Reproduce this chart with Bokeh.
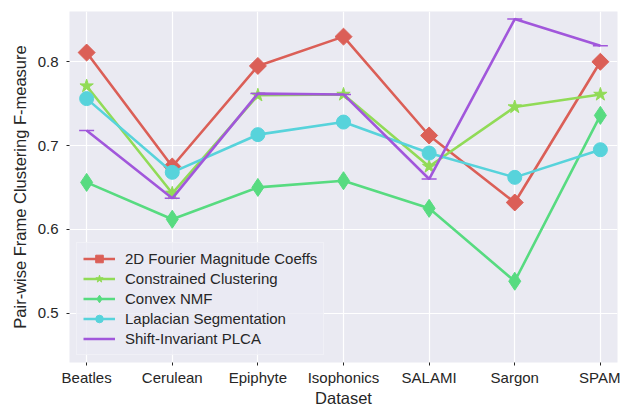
from bokeh.plotting import figure
from bokeh.models import Range1d, FixedTicker, Legend, LegendItem
from bokeh.embed import file_html
from bokeh.resources import INLINE
import numpy as np

datasets = ["Beatles", "Cerulean", "Epiphyte", "Isophonics", "SALAMI", "Sargon", "SPAM"]
fourier = [0.811, 0.675, 0.795, 0.830, 0.712, 0.632, 0.800]
constrained = [0.771, 0.643, 0.760, 0.761, 0.675, 0.746, 0.761]
convex_nmf = [0.656, 0.612, 0.650, 0.658, 0.625, 0.538, 0.736]
laplacian = [0.756, 0.668, 0.713, 0.728, 0.691, 0.662, 0.695]
si_plca = [0.718, 0.637, 0.762, 0.761, 0.660, 0.851, 0.819]
y_ticks = [0.5, 0.6, 0.7, 0.8]

series = [
    ("2D Fourier Magnitude Coeffs", fourier, "#db5f57", "square", 12, np.pi / 4),
    ("Constrained Clustering", constrained, "#91db57", "star", 14, 0),
    ("Convex NMF", convex_nmf, "#57db80", "diamond", 18, 0),
    ("Laplacian Segmentation", laplacian, "#57d3db", "circle", 14, 0),
    ("Shift-Invariant PLCA", si_plca, "#a157db", "dash", 15, 0),
]

FONT = "Liberation Sans"
TXT = "#262626"

p = figure(width=620, height=409, output_backend="svg", toolbar_location=None,
           x_range=Range1d(-0.2, 6.2), y_range=Range1d(0.441, 0.86),
           min_border_top=11, min_border_right=3, min_border_left=69, min_border_bottom=45)
p.background_fill_color = "#eaeaf2"
p.border_fill_color = "white"
p.outline_line_color = None

xs = list(range(len(datasets)))
items = []
for name, vals, color, marker, size, ang in series:
    r1 = p.line(xs, vals, line_color=color, line_width=2.6)
    r2 = p.scatter(xs, vals, marker=marker, size=size, angle=ang,
                   fill_color=color, line_color=color, line_width=1.5 if marker == "dash" else 1)
    items.append(LegendItem(label=name, renderers=[r1, r2]))

p.xaxis.ticker = FixedTicker(ticks=xs)
p.xaxis.major_label_overrides = {i: d for i, d in enumerate(datasets)}
p.yaxis.ticker = FixedTicker(ticks=y_ticks)
p.yaxis.formatter.use_scientific = False

for ax in (p.xaxis, p.yaxis):
    ax.axis_line_color = None
    ax.major_tick_line_color = TXT
    ax.major_tick_in = 0
    ax.major_tick_out = 3
    ax.minor_tick_line_color = None
    ax.major_label_text_font = FONT
    ax.major_label_text_font_size = "15px"
    ax.major_label_text_color = TXT
    ax.axis_label_text_font = FONT
    ax.axis_label_text_font_size = "16.5px"
    ax.axis_label_text_font_style = "normal"
    ax.axis_label_text_color = TXT

p.xaxis.axis_label = "Dataset"
p.yaxis.axis_label = "Pair-wise Frame Clustering F-measure"
p.xaxis.major_label_standoff = 3
p.yaxis.major_label_standoff = 8
p.xaxis.axis_label_standoff = 0
p.yaxis.axis_label_standoff = 6

p.xgrid.grid_line_color = "white"
p.ygrid.grid_line_color = "white"
p.xgrid.grid_line_width = 1.2
p.ygrid.grid_line_width = 1.2

legend = Legend(items=items, location=(7, 7))
legend.label_text_font = FONT
legend.label_text_font_size = "15px"
legend.label_text_color = TXT
legend.glyph_width = 32
legend.glyph_height = 19
legend.spacing = 1
legend.padding = 6
legend.margin = 0
legend.label_standoff = 10
legend.background_fill_color = "#eaeaf2"
legend.background_fill_alpha = 0.8
legend.border_line_color = "#f6f6fa"
legend.border_line_width = 1
p.add_layout(legend, "center")

open("out.html", "w").write(file_html(p, INLINE))
